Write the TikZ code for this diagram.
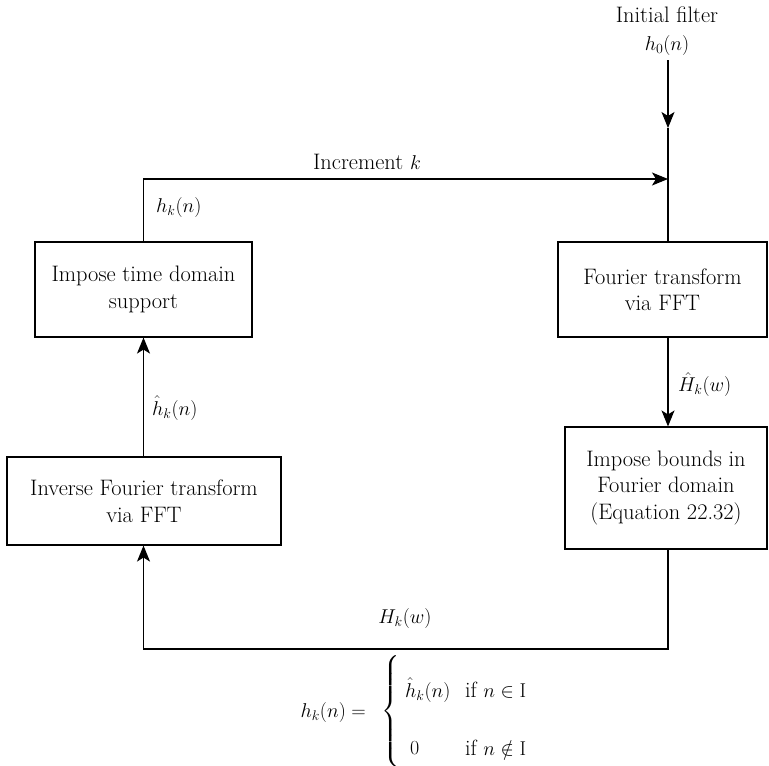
\RequirePackage{fix-cm}
\documentclass[tikz,border=0pt]{standalone}
\usepackage{amsmath}
\usetikzlibrary{arrows.meta}
\begin{document}
\begin{tikzpicture}[x=1pt,y=-1pt,
  box/.style={draw,line width=1.1pt,inner sep=0pt,align=center,font=\fontsize{22.4}{26.5}\selectfont},
  flow/.style={line width=1.1pt},
  tip/.style={flow,-{Stealth[length=16pt,width=13pt,inset=4pt]}},
  lbl/.style={inner sep=0pt,font=\fontsize{20}{24}\selectfont},
  tlbl/.style={inner sep=0pt,font=\fontsize{22.4}{26}\selectfont}]
\useasboundingbox (0,0) rectangle (769,766);
% boxes
\node[box,minimum width=217pt,minimum height=95pt] (b1) at (143.5,289.5) {Impose time domain\\support};
\node[box,minimum width=274pt,minimum height=88pt] (b2) at (144,501) {Inverse Fourier transform\\via FFT};
\node[box,minimum width=209pt,minimum height=95pt] (b3) at (662.5,289.5) {Fourier transform\\via FFT};
\node[box,minimum width=202pt,minimum height=122pt] (b4) at (666,488) {Impose bounds in\\Fourier domain\\(Equation 22.32)};
% input
\node[tlbl] (init) at (667,15) {Initial filter};
\node[lbl,inner sep=5pt] (h0) at (667,45) {$h_0(n)$};
% coordinates
\coordinate (a1) at (668,128);
\coordinate (jn) at (668,179);
\coordinate (tl) at (143.5,179);
\coordinate (br) at (668,649);
\coordinate (bl) at (143.5,649);
% connectors
\draw[tip] (h0.south -| a1) -- (a1);
\draw[flow] (a1) -- (b3.north -| a1);
\draw[tip] (b1.north -| tl) -- (tl) -- (jn);
\draw[tip] (b2.north -| tl) -- (b1.south -| tl);
\draw[tip] (b3.south -| a1) -- (b4.north -| a1);
\draw[tip] (b4.south -| br) -- (br) -- (bl) -- (b2.south -| bl);
% labels
\node[tlbl] (inc) at (367,162) {Increment {\fontsize{20}{24}\selectfont$k$}};
\node[lbl,anchor=west] (lhk) at (156,207) {$h_k(n)$};
\node[lbl,anchor=west] (lhhat) at (152,408) {$\hat{h}_k(n)$};
\node[lbl,anchor=west] (lHhat) at (678,385) {$\hat{H}_k(w)$};
\node[lbl] (lH) at (405,618) {$H_k(w)$};
% equation
\node[lbl,anchor=east] (eqlhs) at (366,712) {$h_k(n) =$};
\node[lbl] (brace) at (391,711) {$\left\{\rule[-51pt]{0pt}{102pt}\right.$};
\node[lbl,anchor=west] (r1a) at (405,690) {$\hat{h}_k(n)$};
\node[lbl,anchor=west] (r1b) at (465,690) {\fontsize{22}{24}\selectfont if {\fontsize{20}{24}\selectfont$n \in \mathrm{I}$}};
\node[lbl,anchor=west] (r2a) at (410,748) {$0$};
\node[lbl,anchor=west] (r2b) at (465,748) {\fontsize{22}{24}\selectfont if {\fontsize{20}{24}\selectfont$n \notin \mathrm{I}$}};
\end{tikzpicture}
\end{document}
